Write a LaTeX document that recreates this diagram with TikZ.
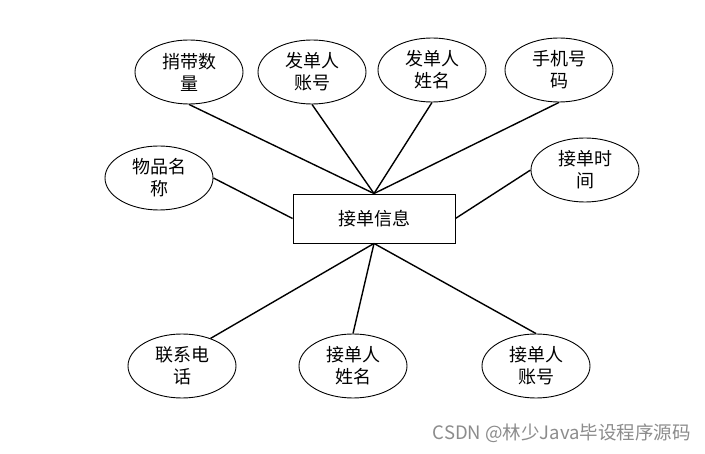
\documentclass[tikz,border=0pt]{standalone}
\usepackage{fontspec}
\setmainfont{Noto Sans CJK SC}
\newfontfamily\wmfont{Noto Sans CJK SC}
\usetikzlibrary{shapes.geometric}
\begin{document}
\begin{tikzpicture}[x=1pt,y=-1pt,
  attr/.style={ellipse,draw,line width=0.9pt,minimum width=108pt,minimum height=64pt,inner sep=0pt,align=center,font=\fontsize{18}{22}\selectfont},
  ent/.style={rectangle,draw,line width=0.9pt,minimum width=162pt,minimum height=49pt,inner sep=0pt,font=\fontsize{18}{22}\selectfont},
  link/.style={line width=1.4pt}]
\useasboundingbox[fill=white] (0,0) rectangle (705,454);
\node[ent] (r) at (374,218.5) {接单信息};
\node[attr] (a1) at (189,72) {捎带数\\量};
\node[attr] (a2) at (312,72) {发单人\\账号};
\node[attr] (a3) at (432,70) {发单人\\姓名};
\node[attr] (a4) at (559,70) {手机号\\码};
\node[attr] (a5) at (159,178) {物品名\\称};
\node[attr] (a6) at (585,170) {接单时\\间};
\node[attr] (a7) at (182,366) {联系电\\话};
\node[attr] (a8) at (353,366) {接单人\\姓名};
\node[attr] (a9) at (536,366) {接单人\\账号};
\draw[link] (a1.south) -- (r.north);
\draw[link] (a2.south) -- (r.north);
\draw[link] (a3.south) -- (r.north);
\draw[link] (a4.south) -- (r.north);
\draw[link] (a5.east) -- (r.west);
\draw[link] (a6.west) -- (r.east);
\draw[link] (a7.44) -- (r.south);
\draw[link] (a8.north) -- (r.south);
\draw[link] (a9.north) -- (r.south);
\node[anchor=east,text=black!45,font=\wmfont\fontsize{18.5}{20}\selectfont,inner sep=0pt] (wm) at (691,433) {CSDN @林少Java毕设程序源码};
\end{tikzpicture}
\end{document}
